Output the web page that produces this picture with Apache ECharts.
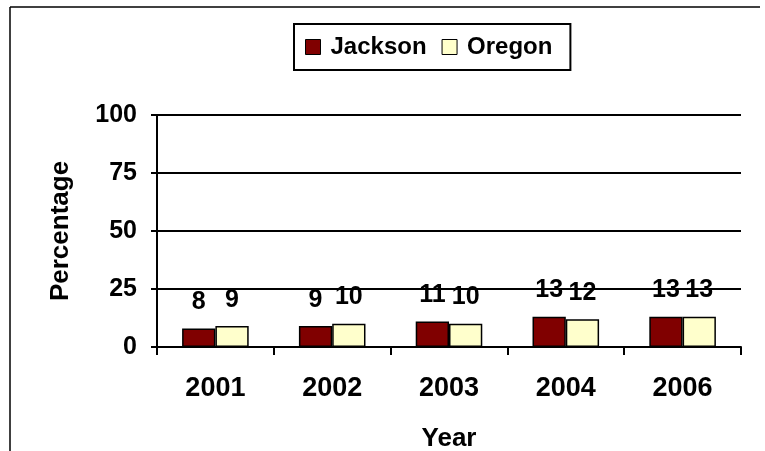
<!DOCTYPE html>
<html>
<head>
<meta charset="utf-8">
<script src="https://cdn.jsdelivr.net/npm/echarts@6/dist/echarts.min.js"></script>
<style>
html,body{margin:0;padding:0;background:#fff;}
#chart{width:765px;height:451px;}
</style>
</head>
<body>
<div id="chart"></div>
<script>
const years = ['2001', '2002', '2003', '2004', '2006'];
const jackson = [8, 9, 11, 13, 13];
const oregon = [9, 10, 10, 12, 13];
const yTicks = [0, 25, 50, 75, 100];

const FONT = '"Liberation Sans", Arial, sans-serif';
const chart = echarts.init(document.getElementById('chart'), null, {renderer: 'canvas'});

const labelStyle = {
  show: true, position: 'top', distance: 14,
  fontFamily: FONT, fontWeight: 'bold', fontSize: 25, color: '#000'
};

chart.setOption({
  backgroundColor: '#fff',
  animation: false,
  graphic: [
    {type: 'line', shape: {x1: 10, y1: 7, x2: 760, y2: 7}, style: {stroke: '#000', lineWidth: 1.5}},
    {type: 'line', shape: {x1: 10, y1: 7, x2: 10, y2: 451}, style: {stroke: '#000', lineWidth: 1.5}}
  ],
  legend: {
    left: 294, top: 24,
    padding: [11, 18, 11, 11],
    itemGap: 15,
    itemWidth: 15, itemHeight: 15,
    borderColor: '#000', borderWidth: 2, borderRadius: 0,
    backgroundColor: '#fff',
    icon: 'rect',
    itemStyle: {borderColor: '#000', borderWidth: 1},
    textStyle: {fontFamily: FONT, fontWeight: 'bold', fontSize: 24, color: '#000', padding: [0, 0, 0, 5]},
    data: ['Jackson', 'Oregon']
  },
  grid: {left: 157, right: 24, top: 115, bottom: 104, containLabel: false, outerBoundsMode: 'none'},
  xAxis: {
    type: 'category',
    data: years,
    name: 'Year',
    nameLocation: 'middle',
    nameGap: 79,
    nameTextStyle: {fontFamily: FONT, fontWeight: 'bold', fontSize: 26, color: '#000'},
    axisLine: {show: true, lineStyle: {color: '#000', width: 2}},
    axisTick: {show: true, length: 8, inside: false, alignWithLabel: false, lineStyle: {color: '#000', width: 2}},
    axisLabel: {margin: 28, fontFamily: FONT, fontWeight: 'bold', fontSize: 27, color: '#000'},
    splitLine: {show: false}
  },
  yAxis: {
    type: 'value',
    min: yTicks[0], max: yTicks[yTicks.length - 1], interval: 25,
    name: 'Percentage',
    nameLocation: 'middle',
    nameRotate: 90,
    nameGap: 83,
    nameTextStyle: {fontFamily: FONT, fontWeight: 'bold', fontSize: 26, color: '#000'},
    axisLine: {show: true, lineStyle: {color: '#000', width: 2}},
    axisTick: {show: true, length: 6, inside: false, lineStyle: {color: '#000', width: 2}},
    axisLabel: {margin: 20, fontFamily: FONT, fontWeight: 'bold', fontSize: 25, color: '#000'},
    splitLine: {show: true, lineStyle: {color: '#000', width: 2}}
  },
  series: [
    {
      name: 'Jackson', type: 'bar', data: jackson,
      barGap: '0%', barCategoryGap: '43%',
      itemStyle: {color: '#800000', borderColor: '#000', borderWidth: 1.5},
      label: labelStyle
    },
    {
      name: 'Oregon', type: 'bar', data: oregon,
      barGap: '0%', barCategoryGap: '43%',
      itemStyle: {color: '#FFFFCC', borderColor: '#000', borderWidth: 1.5},
      label: labelStyle
    }
  ]
});
</script>
</body>
</html>
